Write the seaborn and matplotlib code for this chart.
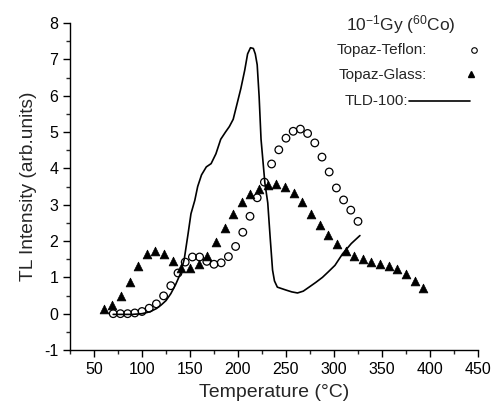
import numpy as np
import pandas as pd
import matplotlib
matplotlib.use('Agg')
import matplotlib.pyplot as plt
import seaborn as sns

# Topaz-Teflon (open circles)
teflon_t = [70, 77.5, 85, 92.5, 100, 107.5, 115, 122.5, 130, 137.5, 145, 152.5,
            160, 167.5, 175, 182.5, 190, 197.5, 205, 212.5, 220, 227.5, 235,
            242.5, 250, 257.5, 265, 272.5, 280, 287.5, 295, 302.5, 310, 317.5, 325]
teflon_tl = [0.0, 0.0, 0.0, 0.02, 0.06, 0.15, 0.27, 0.49, 0.77, 1.12, 1.42, 1.56,
             1.56, 1.44, 1.36, 1.40, 1.57, 1.85, 2.24, 2.68, 3.19, 3.62, 4.12,
             4.51, 4.83, 5.02, 5.08, 4.96, 4.70, 4.31, 3.90, 3.46, 3.13, 2.85, 2.54]

# Topaz-Glass (filled triangles)
glass_t = [60, 69, 78, 87, 96, 105, 114, 123, 132, 141, 150, 159, 168, 177, 186,
           195, 204, 213, 222, 231, 240, 249, 258, 267, 276, 285, 294, 303, 312,
           321, 330, 339, 348, 357, 366, 375, 384, 393]
glass_tl = [0.12, 0.25, 0.50, 0.88, 1.31, 1.63, 1.72, 1.63, 1.44, 1.26, 1.25, 1.37,
            1.60, 1.97, 2.37, 2.75, 3.06, 3.30, 3.44, 3.53, 3.56, 3.48, 3.33, 3.07,
            2.75, 2.43, 2.17, 1.91, 1.72, 1.60, 1.51, 1.42, 1.37, 1.31, 1.23, 1.10,
            0.91, 0.71]

# TLD-100 (solid line)
tld_t = [70, 90, 100, 108, 115, 120, 125, 130, 135, 140, 144, 148, 151, 155, 158,
         162, 167, 172, 177, 182, 187, 191, 195, 200, 203, 207, 210, 213, 216, 218,
         220, 222, 224, 228, 231, 233.5, 236, 238, 241, 250, 256, 262, 268, 274,
         281, 288, 294, 301, 309, 318, 327]
tld_tl = [-0.02, -0.02, 0.0, 0.05, 0.14, 0.24, 0.36, 0.55, 0.80, 1.10, 1.50, 2.20,
          2.75, 3.12, 3.50, 3.82, 4.04, 4.13, 4.40, 4.80, 5.00, 5.15, 5.35, 5.88,
          6.20, 6.70, 7.15, 7.32, 7.30, 7.15, 6.85, 5.98, 4.80, 3.60, 3.05, 2.10,
          1.20, 0.90, 0.73, 0.65, 0.60, 0.57, 0.62, 0.73, 0.86, 1.00, 1.15, 1.33,
          1.65, 1.93, 2.15]

sns.set_style('ticks')
plt.rcParams['font.family'] = ['Liberation Sans', 'DejaVu Sans']
plt.rcParams['axes.unicode_minus'] = False
plt.rcParams['mathtext.default'] = 'regular'

fig = plt.figure(figsize=(4.92, 4.11), dpi=100)
ax = fig.add_axes([0.1423, 0.1484, 0.8292, 0.7956])

sns.lineplot(x=tld_t, y=tld_tl, ax=ax, color='black', lw=1.2,
             estimator=None, sort=False)
sns.scatterplot(x=teflon_t, y=teflon_tl, ax=ax, marker='o', s=30,
                facecolor='none', edgecolor='black', linewidth=0.9)
sns.scatterplot(x=glass_t, y=glass_tl, ax=ax, marker='^', s=40,
                color='black', edgecolor='black', linewidth=0.5)

ax.set_xlim(25, 450)
ax.set_ylim(-1, 8)
ax.set_xticks(np.arange(50, 451, 50))
ax.set_xticks(np.arange(25, 451, 25), minor=True)
ax.set_yticks(np.arange(-1, 9, 1))
ax.set_yticks(np.arange(-1, 8.01, 0.5), minor=True)
ax.tick_params(which='major', direction='out', length=5, width=1, labelsize=11.5, colors='black')
ax.tick_params(which='minor', direction='out', length=3, width=1)
sns.despine(ax=ax)
for s in ['left', 'bottom']:
    ax.spines[s].set_color('black')
    ax.spines[s].set_linewidth(1)

ax.set_xlabel('Temperature (\u00b0C)', fontsize=14, labelpad=5)
ax.set_ylabel('TL Intensity (arb.units)', fontsize=13.8, labelpad=5)

# legend-like annotation in the top right corner
fs = 11
ax.text(0.81, 0.995, '10$^{-1}$Gy ($^{60}$Co)', transform=ax.transAxes,
        ha='center', va='center', fontsize=12.5)
ax.text(0.875, 0.918, 'Topaz-Teflon:', transform=ax.transAxes,
        ha='right', va='center', fontsize=fs)
ax.plot([0.99], [0.918], transform=ax.transAxes, marker='o', ms=4,
        mfc='none', mec='black', mew=0.8, clip_on=False)
ax.text(0.875, 0.84, 'Topaz-Glass:', transform=ax.transAxes,
        ha='right', va='center', fontsize=fs)
ax.plot([0.983], [0.843], transform=ax.transAxes, marker='^', ms=5,
        color='black', clip_on=False)
ax.text(0.83, 0.76, 'TLD-100:', transform=ax.transAxes,
        ha='right', va='center', fontsize=fs)
ax.plot([0.83, 0.98], [0.76, 0.76], transform=ax.transAxes, color='black', lw=1.2)

fig.savefig('out.png', dpi=100)
